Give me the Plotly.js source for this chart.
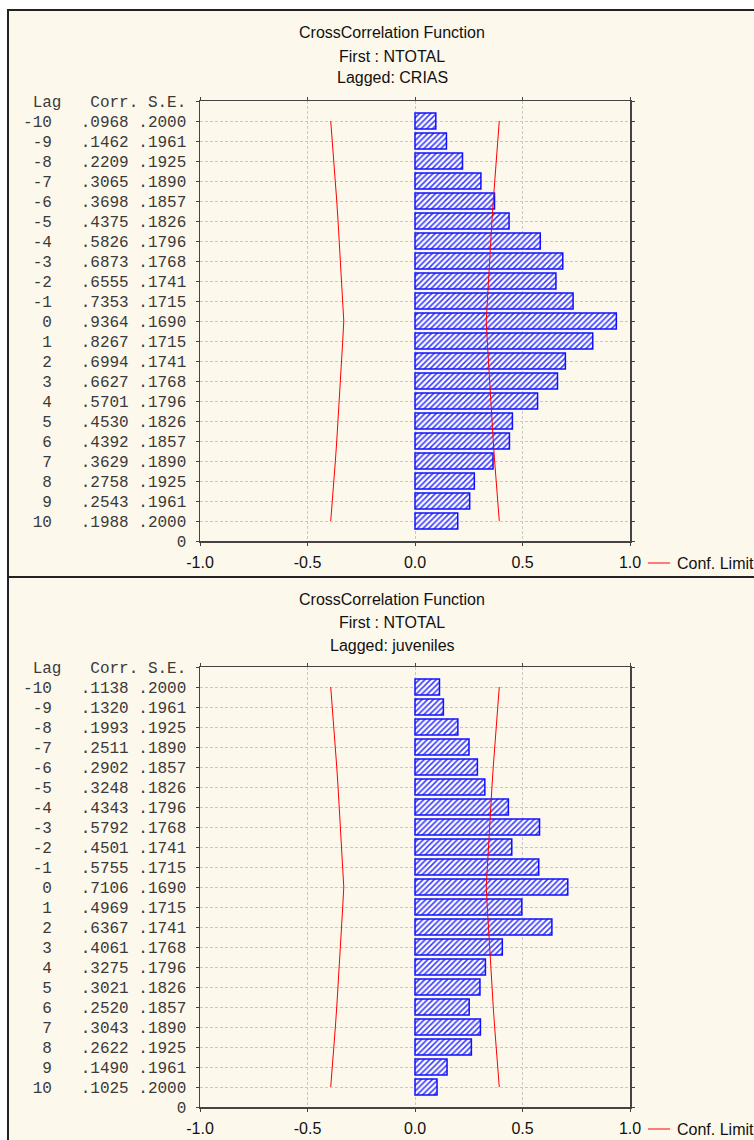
<!DOCTYPE html>
<html>
<head>
<meta charset="utf-8">
<script src="https://cdn.plot.ly/plotly-3.0.1.min.js"></script>
<style>
  html, body { margin: 0; padding: 0; background: #ffffff; }
  #chart { width: 754px; height: 1140px; }
</style>
</head>
<body>
<div id="chart"></div>
<script>
// ---------- data ----------
const lags = [-10, -9, -8, -7, -6, -5, -4, -3, -2, -1, 0, 1, 2, 3, 4, 5, 6, 7, 8, 9, 10];
const stdErr = [.2000, .1961, .1925, .1890, .1857, .1826, .1796, .1768, .1741, .1715, .1690,
                .1715, .1741, .1768, .1796, .1826, .1857, .1890, .1925, .1961, .2000];
const corrCrias = [.0968, .1462, .2209, .3065, .3698, .4375, .5826, .6873, .6555, .7353, .9364,
                   .8267, .6994, .6627, .5701, .4530, .4392, .3629, .2758, .2543, .1988];
const corrJuveniles = [.1138, .1320, .1993, .2511, .2902, .3248, .4343, .5792, .4501, .5755, .7106,
                       .4969, .6367, .4061, .3275, .3021, .2520, .3043, .2622, .1490, .1025];
const panelTitles = [
  ["CrossCorrelation Function", "First : NTOTAL", "Lagged: CRIAS"],
  ["CrossCorrelation Function", "First : NTOTAL", "Lagged: juveniles"]
];
const xTickVals = [-1.0, -0.5, 0.0, 0.5, 1.0];
const xTickText = ["-1.0", "-0.5", "0.0", "0.5", "1.0"];
const headerText = "Lag   Corr. S.E.";
const legendLabel = "Conf. Limit";
const zScore = 1.96; // confidence limit = ±1.96·S.E.

// ---------- helpers ----------
const W = 754, H = 1140;
const px = x => x / W;
const py = y => 1 - y / H;
const NB = "\u00a0";
const fmt = v => v.toFixed(4).replace(/^0/, "");
const pad = (s, n) => NB.repeat(Math.max(0, n - s.length)) + s;
const SANS = "Arial, 'Liberation Sans', sans-serif";
const MONO = "'Courier New', 'Liberation Mono', monospace";

const rowPos = lags.map((l, i) => i + 1);
function tickTexts(corr) {
  const rows = lags.map((l, i) => pad(String(l), 3) + NB.repeat(3) + fmt(corr[i]) + NB + fmt(stdErr[i]));
  return [NB + headerText.replace(/ /g, NB)].concat(rows).concat(["0"]);
}
const tickVals = [0].concat(rowPos).concat([rowPos.length + 1]);

const upper = stdErr.map(s => zScore * s);
const lower = stdErr.map(s => -zScore * s);

const panels = [
  { corr: corrCrias, top: 101, bottom: 541, titleY: [33, 56, 78], legendY: 563, frame: [10, 577] },
  { corr: corrJuveniles, top: 667, bottom: 1107, titleY: [599, 622, 645], legendY: 1129, frame: [577, 1150] }
];

const traces = [];
const layout = {
  width: W, height: H,
  margin: { l: 0, r: 0, t: 0, b: 0 },
  paper_bgcolor: "#ffffff",
  plot_bgcolor: "#ffffff",
  showlegend: false,
  shapes: [],
  annotations: []
};

panels.forEach((p, k) => {
  const xa = k === 0 ? "x" : "x2";
  const ya = k === 0 ? "y" : "y2";
  const xKey = k === 0 ? "xaxis" : "xaxis2";
  const yKey = k === 0 ? "yaxis" : "yaxis2";

  traces.push({
    type: "bar", orientation: "h",
    x: p.corr, y: rowPos, width: 0.8,
    xaxis: xa, yaxis: ya,
    marker: {
      color: "#ffffff",
      line: { color: "#1010ff", width: 1.5 },
      pattern: { shape: "/", fgcolor: "#3a3aff", bgcolor: "#ffffff", size: 4, solidity: 0.4 }
    },
    hoverinfo: "x+y"
  });
  traces.push({
    type: "scatter", mode: "lines", x: lower, y: rowPos, xaxis: xa, yaxis: ya,
    line: { color: "#ff0000", width: 1 }, name: legendLabel
  });
  traces.push({
    type: "scatter", mode: "lines", x: upper, y: rowPos, xaxis: xa, yaxis: ya,
    line: { color: "#ff0000", width: 1 }, name: legendLabel
  });

  layout[xKey] = {
    domain: [px(200), px(630)],
    anchor: ya,
    range: [-1, 1],
    tickvals: xTickVals, ticktext: xTickText,
    ticks: "outside", ticklen: 3, tickcolor: "#444",
    showline: true, linecolor: "#444", linewidth: 1.5, mirror: "ticks",
    showgrid: true, gridcolor: "#c8c8c8", griddash: "3px,2px", gridwidth: 1,
    zeroline: false,
    ticklabelstandoff: 3,
    tickfont: { family: SANS, size: 16, color: "#111" },
    automargin: false, fixedrange: true
  };
  layout[yKey] = {
    domain: [py(p.bottom), py(p.top)],
    anchor: xa,
    range: [rowPos.length + 1, 0],
    tickvals: tickVals, ticktext: tickTexts(p.corr),
    ticks: "outside", ticklen: 3, tickcolor: "#444",
    showline: true, linecolor: "#444", linewidth: 1.5, mirror: "ticks",
    showgrid: true, gridcolor: "#c8c8c8", griddash: "3px,2px", gridwidth: 1,
    zeroline: false,
    ticklabelstandoff: 6,
    tickfont: { family: MONO, size: 16, color: "#3a3a3a" },
    automargin: false, fixedrange: true
  };

  // panel frame (cream background + dark border)
  layout.shapes.push({
    type: "rect", xref: "paper", yref: "paper", layer: "below",
    x0: px(8), x1: px(780), y0: py(p.frame[1]), y1: py(p.frame[0]),
    fillcolor: "#fdf8ec", line: { color: "#222", width: 2 }
  });
  // titles
  panelTitles[k].forEach((t, j) => {
    layout.annotations.push({
      xref: "paper", yref: "paper", x: px(392), y: py(p.titleY[j]),
      xanchor: "center", yanchor: "middle", showarrow: false, text: t,
      font: { family: SANS, size: 16, color: "#111" }
    });
  });
  // legend sample
  layout.shapes.push({
    type: "line", xref: "paper", yref: "paper",
    x0: px(648), x1: px(670), y0: py(p.legendY), y1: py(p.legendY),
    line: { color: "#ff0000", width: 1 }
  });
  layout.annotations.push({
    xref: "paper", yref: "paper", x: px(675), y: py(p.legendY),
    xanchor: "left", yanchor: "middle", showarrow: false, text: legendLabel,
    font: { family: SANS, size: 16, color: "#111" }
  });
});

Plotly.newPlot("chart", traces, layout, { staticPlot: true, displayModeBar: false });
</script>
</body>
</html>
